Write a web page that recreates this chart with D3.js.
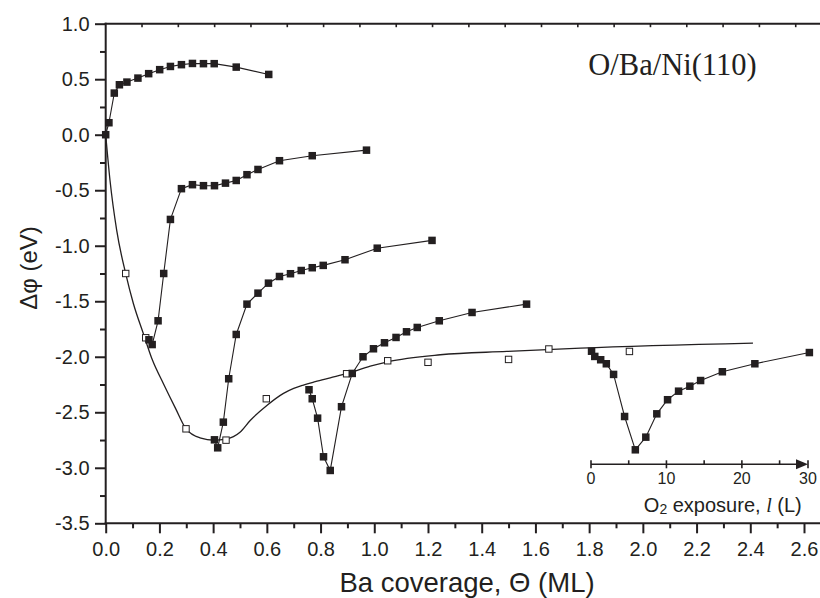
<!DOCTYPE html>
<html>
<head>
<meta charset="utf-8">
<script src="https://cdn.jsdelivr.net/npm/d3@7/dist/d3.min.js"></script>
<style>
  html, body { margin: 0; padding: 0; background: #fff; }
  svg { display: block; }
</style>
</head>
<body>
<svg id="chart" width="820" height="598" font-family="Liberation Sans, Arial, Helvetica, sans-serif"></svg>
<script>
// ---------- DATA ----------
// Series of filled squares (Δφ vs Ba coverage)
const s1x = [0, 0.012, 0.032, 0.051, 0.079, 0.12, 0.16, 0.201, 0.241, 0.282, 0.323, 0.364, 0.404, 0.486, 0.607];
const s1y = [0, 0.108, 0.375, 0.45, 0.474, 0.51, 0.55, 0.586, 0.615, 0.631, 0.642, 0.64, 0.64, 0.609, 0.543];

const s2x = [0.161, 0.173, 0.195, 0.216, 0.241, 0.282, 0.323, 0.364, 0.405, 0.446, 0.486, 0.526, 0.567, 0.647, 0.769, 0.971];
const s2y = [-1.847, -1.89, -1.676, -1.25, -0.763, -0.486, -0.45, -0.459, -0.459, -0.436, -0.412, -0.36, -0.313, -0.234, -0.189, -0.139];

const s3x = [0.405, 0.417, 0.438, 0.458, 0.486, 0.526, 0.567, 0.606, 0.647, 0.688, 0.728, 0.769, 0.81, 0.891, 1.011, 1.215];
const s3y = [-2.748, -2.82, -2.589, -2.198, -1.799, -1.526, -1.427, -1.337, -1.277, -1.252, -1.223, -1.198, -1.177, -1.126, -1.022, -0.952];

const s4x = [0.757, 0.769, 0.789, 0.811, 0.836, 0.878, 0.918, 0.958, 0.997, 1.038, 1.081, 1.12, 1.16, 1.242, 1.364, 1.567];
const s4y = [-2.297, -2.378, -2.553, -2.901, -3.024, -2.45, -2.15, -2.0, -1.928, -1.874, -1.826, -1.775, -1.736, -1.676, -1.601, -1.526];

const s5x = [1.809, 1.821, 1.843, 1.864, 1.891, 1.932, 1.972, 2.011, 2.052, 2.092, 2.133, 2.175, 2.215, 2.296, 2.417, 2.62];
const s5y = [-1.95, -1.997, -2.027, -2.063, -2.159, -2.538, -2.838, -2.724, -2.514, -2.387, -2.31, -2.265, -2.214, -2.135, -2.063, -1.962];

// Open squares (Ba/Ni(110) without oxygen)
const openX = [0.0745, 0.149, 0.299, 0.448, 0.598, 0.897, 1.05, 1.2, 1.5, 1.65, 1.95];
const openY = [-1.25, -1.829, -2.649, -2.751, -2.378, -2.153, -2.036, -2.05, -2.024, -1.93, -1.952];

// Smooth guide curve through the open squares
const fitX = [0, 0.016, 0.041, 0.0745, 0.103, 0.14, 0.174, 0.215, 0.26, 0.299, 0.351, 0.405, 0.447, 0.5, 0.538, 0.6, 0.662, 0.7, 0.736, 0.78, 0.836, 0.9, 0.985, 1.05, 1.246, 1.494, 1.768, 2.41];
const fitY = [0, -0.41, -0.862, -1.252, -1.52, -1.79, -2.03, -2.243, -2.465, -2.649, -2.73, -2.752, -2.742, -2.68, -2.574, -2.439, -2.33, -2.285, -2.255, -2.225, -2.19, -2.15, -2.085, -2.045, -1.982, -1.952, -1.922, -1.877];

// Axis ticks
const xMajor = [0, 0.2, 0.4, 0.6, 0.8, 1.0, 1.2, 1.4, 1.6, 1.8, 2.0, 2.2, 2.4, 2.6];
const xMinor = [0.1, 0.3, 0.5, 0.7, 0.9, 1.1, 1.3, 1.5, 1.7, 1.9, 2.1, 2.3, 2.5];
const yMajor = [1.0, 0.5, 0.0, -0.5, -1.0, -1.5, -2.0, -2.5, -3.0, -3.5];
const yMinor = [0.75, 0.25, -0.25, -0.75, -1.25, -1.75, -2.25, -2.75, -3.25];
const insetMajor = [0, 10, 20, 30];
const insetMinor = [5, 15, 25];
const topTickStep = 0.13522;   // spacing of the unlabelled top-frame ticks (Θ units)
const topTickCount = 20;

// ---------- LAYOUT ----------
const W = 820, H = 598;
const ink = "#231f20";
const sans = "Liberation Sans, Arial, Helvetica, sans-serif";
const serif = "Liberation Serif, Times New Roman, serif";
const svg = d3.select("#chart");
svg.append("rect").attr("width", W).attr("height", H).attr("fill", "#fff");

const x = d3.scaleLinear().domain([0, 2.6]).range([105.7, 804]);
const y = d3.scaleLinear().domain([-3.5, 1.0]).range([523.3, 23.7]);
const xi = d3.scaleLinear().domain([0, 25, 30]).range([591, 779.6, 808]);
const insetY = 464.3;

const fmt = d => d.toFixed(1);

// ---------- AXES ----------
// bottom
const gB = svg.append("g").attr("transform", `translate(0,${y(-3.5)})`);
gB.call(d3.axisBottom(x).tickValues(xMajor).tickSize(10).tickPadding(9).tickFormat(fmt));
gB.call(g => g.append("g").call(d3.axisBottom(x).tickValues(xMinor).tickSize(5).tickFormat("")));
gB.selectAll(".domain").remove();
gB.append("line").attr("x1", x(0) - 1).attr("x2", W).attr("stroke", ink).attr("stroke-width", 2);
gB.selectAll(".tick line").attr("stroke", ink).attr("stroke-width", 2);
gB.selectAll(".tick text").attr("font-size", 20).attr("fill", ink).attr("font-family", sans);

// left
const gL = svg.append("g").attr("transform", `translate(${x(0)},0)`);
gL.call(d3.axisLeft(y).tickValues(yMajor).tickSize(10.7).tickPadding(5.5).tickFormat(fmt));
gL.call(g => g.append("g").call(d3.axisLeft(y).tickValues(yMinor).tickSize(5.7).tickFormat("")));
gL.selectAll(".domain").remove();
gL.append("line").attr("y1", y(1.0) - 1).attr("y2", y(-3.5) + 1).attr("stroke", ink).attr("stroke-width", 2);
gL.selectAll(".tick line").attr("stroke", ink).attr("stroke-width", 2);
gL.selectAll(".tick text").attr("font-size", 20).attr("fill", ink).attr("font-family", sans);

// top frame line with small inward ticks
const gT = svg.append("g").attr("transform", `translate(0,${y(1.0)})`);
gT.append("line").attr("x1", x(0) - 1).attr("x2", W).attr("stroke", ink).attr("stroke-width", 2);
gT.selectAll("line.tt").data(d3.range(1, topTickCount).map(i => i * topTickStep))
  .join("line").attr("class", "tt")
  .attr("x1", d => x(d)).attr("x2", d => x(d)).attr("y1", 0).attr("y2", 3.5)
  .attr("stroke", ink).attr("stroke-width", 1.6);

// ---------- INSET O2 EXPOSURE AXIS ----------
const gI = svg.append("g").attr("transform", `translate(0,${insetY})`);
gI.append("line").attr("x1", xi(0)).attr("x2", xi(30) - 10).attr("stroke", ink).attr("stroke-width", 1.6);
gI.append("path")
  .attr("d", `M${xi(30) - 12},-5 L${xi(30)},0 L${xi(30) - 12},5 Z`)
  .attr("fill", ink);
gI.selectAll("line.im").data(insetMajor).join("line").attr("class", "im")
  .attr("x1", d => xi(d)).attr("x2", d => xi(d)).attr("y1", -4).attr("y2", 4)
  .attr("stroke", ink).attr("stroke-width", 1.6);
gI.selectAll("line.in").data(insetMinor).join("line").attr("class", "in")
  .attr("x1", d => xi(d)).attr("x2", d => xi(d)).attr("y1", -4).attr("y2", 0)
  .attr("stroke", ink).attr("stroke-width", 1.6);
gI.selectAll("text.il").data(insetMajor).join("text").attr("class", "il")
  .attr("x", d => xi(d)).attr("y", 19.7).attr("text-anchor", "middle")
  .attr("font-size", 16).attr("fill", ink).text(d => d);

const lab = svg.append("text").attr("x", 801.7).attr("y", 511.7)
  .attr("text-anchor", "end").attr("font-size", 20).attr("fill", ink).attr("font-family", sans);
lab.append("tspan").text("O");
lab.append("tspan").attr("font-size", 14).attr("dy", 2).text("2");
lab.append("tspan").attr("dy", -2).text(" exposure, ");
lab.append("tspan").attr("font-family", serif).attr("font-style", "italic").text("l");
lab.append("tspan").text(" (L)");

// ---------- FIT CURVE ----------
const fitData = fitX.map((v, i) => [v, fitY[i]]);
svg.append("path").datum(fitData)
  .attr("fill", "none").attr("stroke", ink).attr("stroke-width", 1.3)
  .attr("d", d3.line().x(d => x(d[0])).y(d => y(d[1])).curve(d3.curveMonotoneX));

// ---------- FILLED SERIES ----------
const series = [[s1x, s1y], [s2x, s2y], [s3x, s3y], [s4x, s4y], [s5x, s5y]];
const lineGen = d3.line().x(d => x(d[0])).y(d => y(d[1]));
const ms = 7.5;
series.forEach(([sx, sy]) => {
  const data = sx.map((v, i) => [v, sy[i]]);
  svg.append("path").datum(data).attr("fill", "none").attr("stroke", ink).attr("stroke-width", 1.1).attr("d", lineGen);
});

// open squares
const openData = openX.map((v, i) => [v, openY[i]]);
svg.selectAll("rect.open").data(openData).join("rect").attr("class", "open")
  .attr("x", d => x(d[0]) - 3.2).attr("y", d => y(d[1]) - 3.2)
  .attr("width", 6.4).attr("height", 6.4)
  .attr("fill", "#fff").attr("stroke", ink).attr("stroke-width", 1);

series.forEach(([sx, sy], k) => {
  const data = sx.map((v, i) => [v, sy[i]]);
  svg.selectAll(`rect.f${k}`).data(data).join("rect").attr("class", `f${k}`)
    .attr("x", d => x(d[0]) - ms / 2).attr("y", d => y(d[1]) - ms / 2)
    .attr("width", ms).attr("height", ms).attr("fill", ink);
});

// ---------- TITLES ----------
svg.append("text").attr("x", 467).attr("y", 592).attr("text-anchor", "middle")
  .attr("font-size", 27.5).attr("fill", ink).attr("font-family", sans).text("Ba coverage, Θ (ML)");

svg.append("text").attr("transform", "translate(37,268) rotate(-90)")
  .attr("text-anchor", "middle").attr("font-size", 24).attr("fill", ink).attr("font-family", sans).text("Δφ (eV)");

svg.append("text").attr("x", 588.3).attr("y", 75)
  .attr("font-family", serif).attr("fill", ink)
  .attr("font-size", 30.5).text("O/Ba/Ni(110)");
</script>
</body>
</html>
